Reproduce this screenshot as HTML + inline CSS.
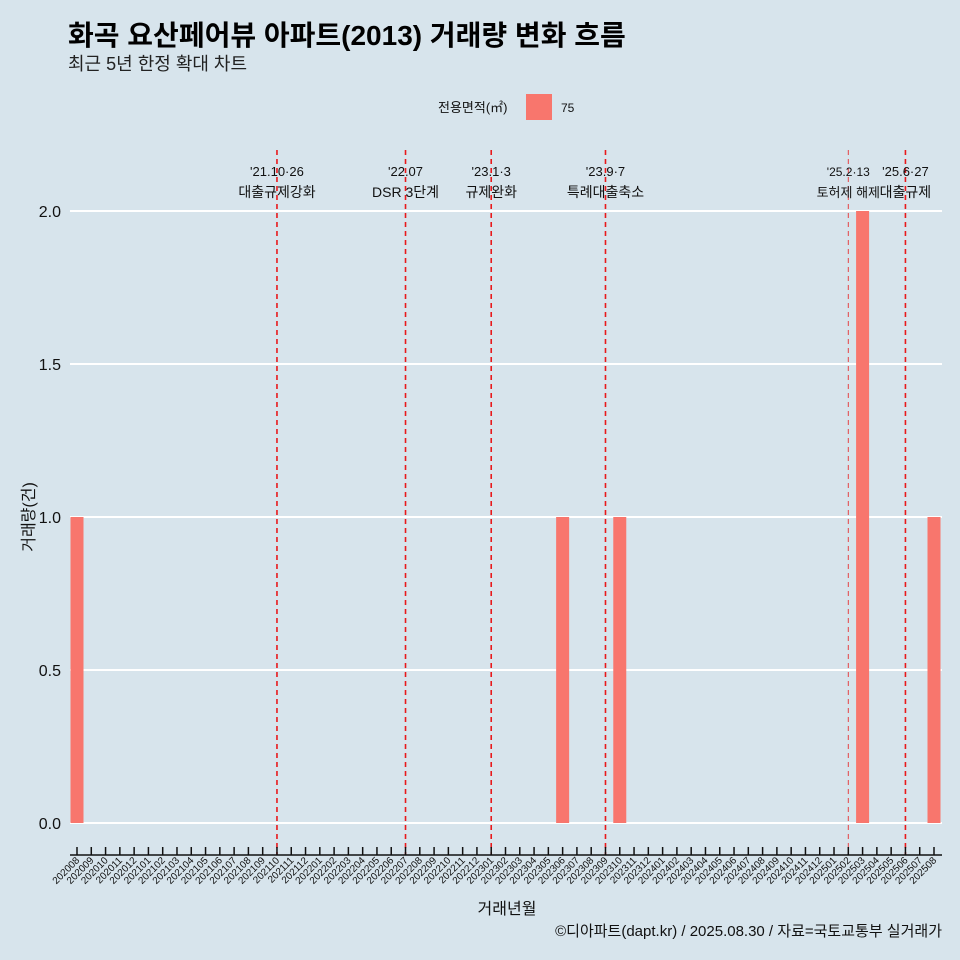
<!DOCTYPE html>
<html><head><meta charset="utf-8">
<style>
html,body{margin:0;padding:0;background:#d7e4ec;}
svg{display:block;font-family:"Liberation Sans","Noto Sans CJK KR",sans-serif;}
</style></head>
<body>
<svg id="chart" width="960" height="960" viewBox="0 0 960 960">
<rect width="960" height="960" fill="#d7e4ec"/>
<text x="68" y="45" font-size="28" font-weight="bold" fill="#000">화곡 요산페어뷰 아파트(2013) 거래량 변화 흐름</text>
<text x="68" y="70" font-size="18" fill="#222">최근 5년 한정 확대 차트</text>
<text x="438" y="112" font-size="13" fill="#111">전용면적(㎡)</text>
<rect x="526" y="94" width="26" height="26" fill="#f8766d"/>
<text x="561" y="112" font-size="12" fill="#111">75</text>
<g id="grid"></g><g id="bars"></g><g id="vlines"></g><g id="xaxis"></g><g id="yaxis"></g>
<text x="507" y="914" font-size="16" text-anchor="middle" fill="#111">거래년월</text>
<text transform="translate(34,517) rotate(-90)" font-size="16" text-anchor="middle" fill="#111">거래량(건)</text>
<text x="942" y="936" font-size="15" text-anchor="end" fill="#111">©디아파트(dapt.kr) / 2025.08.30 / 자료=국토교통부 실거래가</text>
</svg>
<script>
const categories = [];
for (let y = 2020, m = 8; y < 2025 || (y === 2025 && m <= 8); ) { categories.push(String(y) + String(m).padStart(2,'0')); m++; if (m > 12) { m = 1; y++; } }
const barMonths = ["202008","202306","202310","202503","202508"];
const barValues = [1,1,1,2,1];
const yTicks = [0,0.5,1,1.5,2];
const yTickLabels = ["0.0","0.5","1.0","1.5","2.0"];
const eventMonths = ["202110","202207","202301","202309","202502","202506"];
const eventDates = ["'21.10·26","'22.07","'23.1·3","'23.9·7","'25.2·13","'25.6·27"];
const eventLabels = ["대출규제강화","DSR 3단계","규제완화","특례대출축소","토허제 해제","대출규제"];

const NS = "http://www.w3.org/2000/svg";
function mk(tag, attrs, parent, text) { const e = document.createElementNS(NS, tag); for (const k in attrs) e.setAttribute(k, attrs[k]); if (text !== undefined) e.textContent = text; parent.appendChild(e); return e; }
const x0 = 77, step = (934 - 77) / (categories.length - 1);
function xPos(cat) { return x0 + categories.indexOf(cat) * step; }
function yPos(v) { return 823 - v * 306; }

const grid = document.getElementById('grid'), yaxis = document.getElementById('yaxis');
yTicks.forEach((t, i) => {
  const l = mk('line', {x1: 70, x2: 942, y1: yPos(t), y2: yPos(t), stroke: '#fff', 'stroke-width': 2}, grid);
  
  
  const tx = mk('text', {x: 61, y: yPos(t) + 6, 'font-size': 16, 'text-anchor': 'end', fill: '#111'}, yaxis, yTickLabels[i]);
  
  
});

const bars = document.getElementById('bars');
barMonths.forEach((m, i) => {
  const r = mk('rect', {x: xPos(m) - 6.5, y: yPos(barValues[i]), width: 13, height: yPos(0) - yPos(barValues[i]), fill: '#f8766d'}, bars);
  
  
});

const vl = document.getElementById('vlines');
eventMonths.forEach((m, i) => {
  const x = xPos(m);
  const small = m === "202502";
  const l = mk('line', {x1: x, x2: x, y1: 150, y2: 855, stroke: '#e8191b', 'stroke-width': small ? 1 : 1.6, 'stroke-dasharray': '5,4', opacity: small ? 0.8 : 1}, vl);
  
  
  const fs = small ? 12 : 13;
  const d = mk('text', {x: x, y: 176, 'font-size': fs, 'text-anchor': 'middle', fill: '#111'}, vl, eventDates[i]);
  
  
  const t = mk('text', {x: x, y: 197, 'font-size': fs + 1, 'text-anchor': 'middle', fill: '#111'}, vl, eventLabels[i]);
  
  
});

const xa = document.getElementById('xaxis');
const axl = mk('line', {x1: 70, x2: 942, y1: 855, y2: 855, stroke: '#111', 'stroke-width': 1.5}, xa);


categories.forEach(c => {
  const x = xPos(c);
  const tk = mk('line', {x1: x, x2: x, y1: 847, y2: 855, stroke: '#111', 'stroke-width': 1.5}, xa);
  
  
  const tx = mk('text', {transform: `translate(${x + 3},${861}) rotate(-45)`, 'font-size': 10, 'text-anchor': 'end', fill: '#111'}, xa, c);
  
  
});
</script>
</body></html>
